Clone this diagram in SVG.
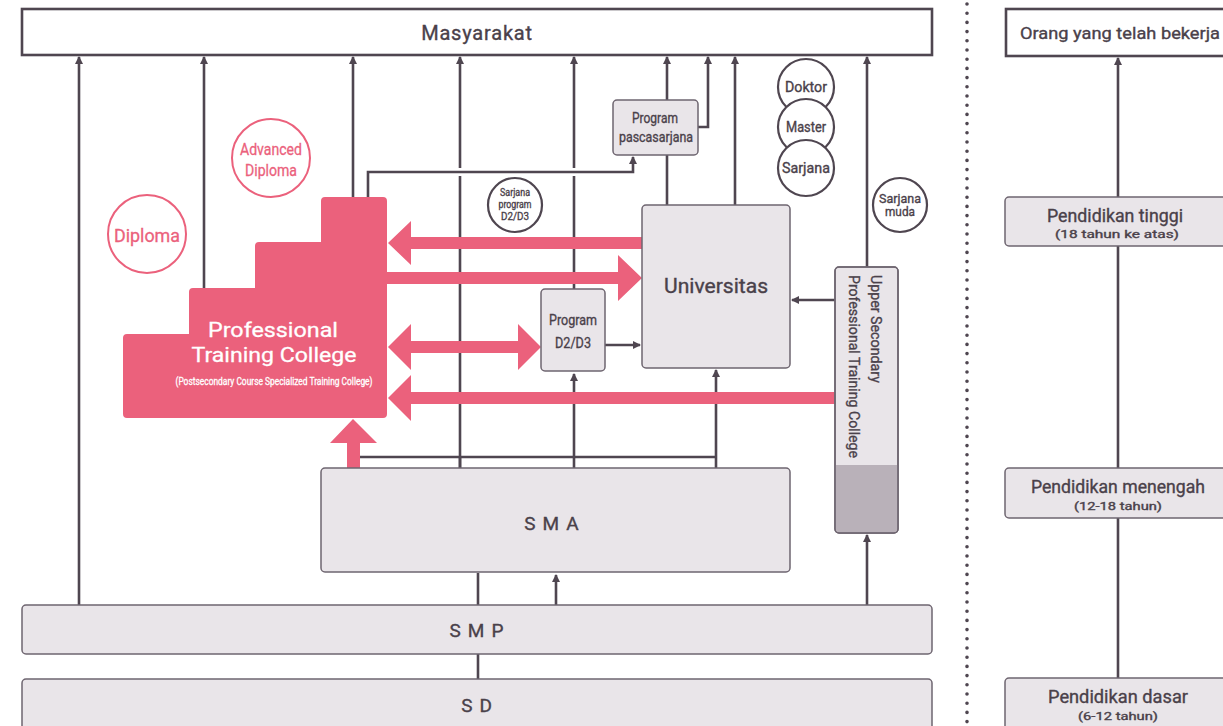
<svg xmlns="http://www.w3.org/2000/svg" width="1223" height="726" viewBox="0 0 1223 726">
<style>
.ln{stroke:#4f4650;stroke-width:2.6;fill:none}
.halo{stroke:#ffffff;stroke-width:8;fill:none}
.box{fill:#e9e5e9;stroke:#6e6570;stroke-width:1.5}
.wbox{fill:#ffffff;stroke:#4f4650;stroke-width:2.6}
.pk{fill:#eb617c}
.t{font-family:Roboto,"Liberation Sans",sans-serif;fill:#4a414a;stroke:#4a414a;stroke-width:0.35}
.tw{font-family:Roboto,"Liberation Sans",sans-serif;fill:#ffffff;stroke:#ffffff;stroke-width:0.3}
.tp{font-family:Roboto,"Liberation Sans",sans-serif;fill:#eb617c;stroke:#eb617c;stroke-width:0.3}
.cp{fill:#ffffff;stroke:#eb617c;stroke-width:2}
.cd{fill:#ffffff;stroke:#4f4650;stroke-width:2.2}
</style>
<defs>
<marker id="ah" markerWidth="10" markerHeight="10" refX="7" refY="4" orient="auto" markerUnits="userSpaceOnUse">
<path d="M0,0 L8,4 L0,8 Z" fill="#4f4650"/>
</marker>
</defs>
<rect width="1223" height="726" fill="#ffffff"/>

<!-- divider -->
<line x1="967" y1="4" x2="967" y2="726" stroke="#4f4650" stroke-width="3.6" stroke-linecap="round" stroke-dasharray="0 9.2"/>

<g id="connectors">
<!-- up to Masyarakat -->
<line class="ln" x1="79" y1="605" x2="79" y2="57" marker-end="url(#ah)"/>
<line class="ln" x1="204" y1="289" x2="204" y2="57" marker-end="url(#ah)"/>
<line class="ln" x1="353" y1="198" x2="353" y2="57" marker-end="url(#ah)"/>
<line class="ln" x1="460" y1="468" x2="460" y2="57" marker-end="url(#ah)"/>
<line class="ln" x1="574" y1="289" x2="574" y2="57" marker-end="url(#ah)"/>
<line class="ln" x1="667" y1="205" x2="667" y2="57" marker-end="url(#ah)"/>
<polyline class="ln" points="698,127 708,127 708,57" marker-end="url(#ah)"/>
<line class="ln" x1="735" y1="205" x2="735" y2="57" marker-end="url(#ah)"/>
<line class="ln" x1="867" y1="267" x2="867" y2="57" marker-end="url(#ah)"/>
<!-- PTC to pascasarjana -->
<polyline class="halo" points="368,198 368,172 633,172"/>
<polyline class="ln" points="368,198 368,172 633,172 633,157" marker-end="url(#ah)"/>
<!-- from SMA top -->
<line class="ln" x1="358" y1="457" x2="716" y2="457"/>
<line class="ln" x1="460" y1="468" x2="460" y2="457"/>
<line class="ln" x1="574" y1="468" x2="574" y2="374" marker-end="url(#ah)"/>
<line class="ln" x1="716" y1="468" x2="716" y2="370" marker-end="url(#ah)"/>
<!-- D2/D3 to Univ -->
<line class="ln" x1="605" y1="345" x2="640" y2="345" marker-end="url(#ah)"/>
<!-- Upper secondary to Univ -->
<line class="ln" x1="835" y1="300" x2="792" y2="300" marker-end="url(#ah)"/>
<!-- SMP to others -->
<line class="ln" x1="478" y1="605" x2="478" y2="573"/>
<line class="ln" x1="556" y1="605" x2="556" y2="575" marker-end="url(#ah)"/>
<line class="ln" x1="867" y1="605" x2="867" y2="535" marker-end="url(#ah)"/>
<line class="ln" x1="478" y1="654" x2="478" y2="679"/>
<!-- right column -->
<line class="ln" x1="1118" y1="678" x2="1118" y2="58" marker-end="url(#ah)"/>
<!-- pink arrows -->
<polygon class="pk" points="642,237 411,237 411,221 388,243 411,265 411,249 642,249"/>
<polygon class="pk" points="387,272 618,272 618,255 642,278 618,301 618,284 387,284"/>
<polygon class="pk" points="411,341 518,341 518,324 541,347 518,370 518,353 411,353 411,370 388,347 411,324"/>
<polygon class="pk" points="835,392 411,392 411,375 388,398 411,421 411,404 835,404"/>
<polygon class="pk" points="347,468 347,443 330,443 353,419 377,443 360,443 360,468"/>
</g>

<g id="masyarakat">
<rect class="wbox" x="22" y="9" width="910" height="46"/>
<text class="t" x="477" y="40" font-size="20" text-anchor="middle" letter-spacing="0.8">Masyarakat</text>
</g>

<g id="orang">
<rect class="wbox" x="1006" y="9" width="240" height="47"/>
<text class="t" x="1020" y="39" font-size="17" textLength="200" lengthAdjust="spacingAndGlyphs">Orang yang telah bekerja</text>
</g>

<g id="tinggi">
<rect class="box" x="1005" y="197" width="240" height="49" rx="4"/>
<text class="t" x="1115" y="222" font-size="18" text-anchor="middle" textLength="136" lengthAdjust="spacingAndGlyphs">Pendidikan tinggi</text>
<text class="t" x="1117" y="238" font-size="10.5" text-anchor="middle" textLength="124" lengthAdjust="spacingAndGlyphs">(18 tahun ke atas)</text>
</g>
<g id="menengah">
<rect class="box" x="1005" y="468" width="240" height="50" rx="4"/>
<text class="t" x="1118" y="493" font-size="18" text-anchor="middle" textLength="174" lengthAdjust="spacingAndGlyphs">Pendidikan menengah</text>
<text class="t" x="1118" y="510" font-size="10.5" text-anchor="middle" textLength="88" lengthAdjust="spacingAndGlyphs">(12-18 tahun)</text>
</g>
<g id="dasar">
<rect class="box" x="1005" y="678" width="240" height="60" rx="4"/>
<text class="t" x="1118" y="703" font-size="18" text-anchor="middle" textLength="140" lengthAdjust="spacingAndGlyphs">Pendidikan dasar</text>
<text class="t" x="1118" y="720" font-size="10.5" text-anchor="middle" textLength="80" lengthAdjust="spacingAndGlyphs">(6-12 tahun)</text>
</g>

<g id="ptc">
<path class="pk" d="M127,334 L189,334 L189,292 Q189,288 193,288 L255,288 L255,246 Q255,242 259,242 L321,242 L321,201 Q321,197 325,197 L383,197 Q387,197 387,201 L387,414 Q387,418 383,418 L127,418 Q123,418 123,414 L123,338 Q123,334 127,334 Z"/>
<text class="tw" x="273" y="337" font-size="21" text-anchor="middle" textLength="130" lengthAdjust="spacingAndGlyphs">Professional</text>
<text class="tw" x="274" y="362" font-size="21" text-anchor="middle" textLength="165" lengthAdjust="spacingAndGlyphs">Training College</text>
<text class="tw" x="274" y="385" font-size="10" text-anchor="middle" textLength="197" lengthAdjust="spacingAndGlyphs" stroke-width="0.15">(Postsecondary Course Specialized Training College)</text>
</g>

<g id="diploma">
<circle class="cp" cx="147" cy="234" r="39"/>
<text class="tp" x="147" y="242" font-size="18" text-anchor="middle" textLength="66" lengthAdjust="spacingAndGlyphs">Diploma</text>
</g>
<g id="advanced-diploma">
<circle class="cp" cx="271" cy="158" r="39"/>
<text class="tp" x="271" y="155" font-size="17" text-anchor="middle" textLength="62" lengthAdjust="spacingAndGlyphs">Advanced</text>
<text class="tp" x="271" y="176" font-size="17" text-anchor="middle" textLength="52" lengthAdjust="spacingAndGlyphs">Diploma</text>
</g>

<g id="sarjana-d2d3">
<circle class="cd" cx="515" cy="205" r="27"/>
<text class="t" x="515" y="196" font-size="11" text-anchor="middle" textLength="30" lengthAdjust="spacingAndGlyphs">Sarjana</text>
<text class="t" x="515" y="208" font-size="11" text-anchor="middle" textLength="33" lengthAdjust="spacingAndGlyphs">program</text>
<text class="t" x="515" y="220" font-size="11" text-anchor="middle" textLength="28" lengthAdjust="spacingAndGlyphs">D2/D3</text>
</g>

<g id="pascasarjana">
<rect class="box" x="613" y="100" width="85" height="55" rx="4"/>
<text class="t" x="655" y="123" font-size="15" text-anchor="middle" textLength="46" lengthAdjust="spacingAndGlyphs">Program</text>
<text class="t" x="656" y="142" font-size="15" text-anchor="middle" textLength="74" lengthAdjust="spacingAndGlyphs">pascasarjana</text>
</g>

<g id="doktor">
<circle class="cd" cx="806" cy="87" r="28"/>
<text class="t" x="806" y="92" font-size="14" text-anchor="middle" textLength="42" lengthAdjust="spacingAndGlyphs">Doktor</text>
</g>
<g id="master">
<circle class="cd" cx="806" cy="127" r="28"/>
<text class="t" x="806" y="132" font-size="14" text-anchor="middle" textLength="40" lengthAdjust="spacingAndGlyphs">Master</text>
</g>
<g id="sarjana">
<circle class="cd" cx="806" cy="168" r="28"/>
<text class="t" x="806" y="173" font-size="14" text-anchor="middle" textLength="48" lengthAdjust="spacingAndGlyphs">Sarjana</text>
</g>
<g id="sarjana-muda">
<circle class="cd" cx="900" cy="205" r="27"/>
<text class="t" x="900" y="203" font-size="13" text-anchor="middle" textLength="42" lengthAdjust="spacingAndGlyphs">Sarjana</text>
<text class="t" x="900" y="216" font-size="13" text-anchor="middle" textLength="30" lengthAdjust="spacingAndGlyphs">muda</text>
</g>

<g id="universitas">
<rect class="box" x="642" y="205" width="148" height="163" rx="4"/>
<text class="t" x="716" y="293" font-size="20" text-anchor="middle" textLength="104" lengthAdjust="spacingAndGlyphs">Universitas</text>
</g>

<g id="program-d2d3">
<rect class="box" x="541" y="289" width="64" height="82" rx="4"/>
<text class="t" x="573" y="325" font-size="15" text-anchor="middle" textLength="48" lengthAdjust="spacingAndGlyphs">Program</text>
<text class="t" x="573" y="348" font-size="15" text-anchor="middle" textLength="36" lengthAdjust="spacingAndGlyphs">D2/D3</text>
</g>

<g id="upper-secondary">
<rect class="box" x="835" y="267" width="63" height="266" rx="4"/>
<path d="M835.75,465 L897.25,465 L897.25,529 Q897.25,532.25 894,532.25 L839,532.25 Q835.75,532.25 835.75,529 Z" fill="#b9b1b9"/>
<rect x="835" y="267" width="63" height="266" rx="4" fill="none" stroke="#6e6570" stroke-width="1.5"/>
<text class="t" transform="translate(871,275) rotate(90)" font-size="15.5" textLength="108" lengthAdjust="spacingAndGlyphs">Upper Secondary</text>
<text class="t" transform="translate(849,275) rotate(90)" font-size="15.5" textLength="183" lengthAdjust="spacingAndGlyphs">Professional Training College</text>
</g>

<g id="sma">
<rect class="box" x="321" y="468" width="469" height="104" rx="4"/>
<text class="t" x="555" y="530" font-size="19" text-anchor="middle" letter-spacing="7">SMA</text>
</g>
<g id="smp">
<rect class="box" x="22" y="605" width="910" height="49" rx="4"/>
<text class="t" x="480" y="637" font-size="19" text-anchor="middle" letter-spacing="7">SMP</text>
</g>
<g id="sd">
<rect class="box" x="22" y="679" width="910" height="60" rx="4"/>
<text class="t" x="480" y="712" font-size="19" text-anchor="middle" letter-spacing="7">SD</text>
</g>
</svg>
